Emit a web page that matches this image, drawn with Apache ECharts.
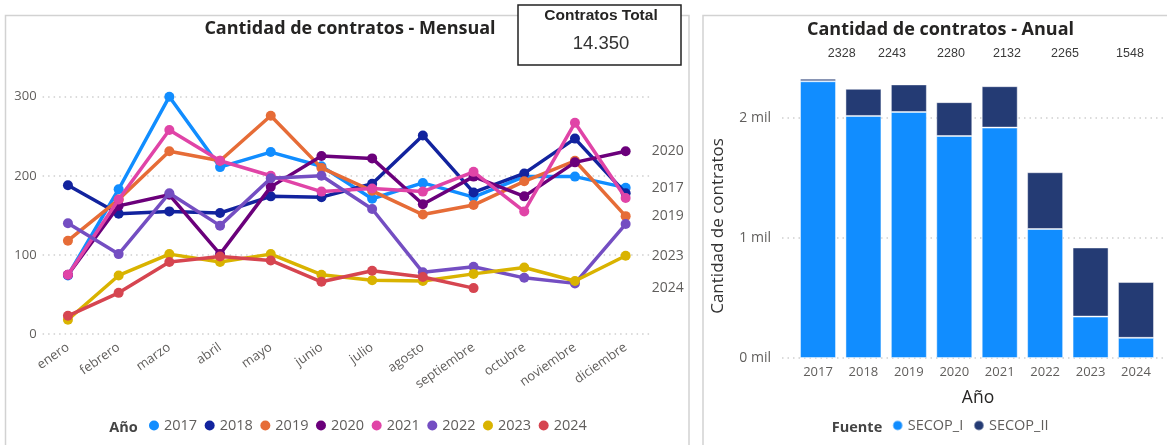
<!DOCTYPE html>
<html>
<head>
<meta charset="utf-8">
<title>Cantidad de contratos</title>
<script src="https://cdn.jsdelivr.net/npm/echarts@6/dist/echarts.min.js"></script>
<style>
  html, body { margin: 0; padding: 0; background: #ffffff; }
  #chart { width: 1167px; height: 445px; }
</style>
</head>
<body>
<div id="chart"></div>
<script>
// ---- Datos ----
const meses = ['enero', 'febrero', 'marzo', 'abril', 'mayo', 'junio', 'julio',
               'agosto', 'septiembre', 'octubre', 'noviembre', 'diciembre'];
const anios = ['2017', '2018', '2019', '2020', '2021', '2022', '2023', '2024'];

// Contratos por mes, un arreglo por año
const mes2017 = [74, 183, 300, 211, 230, 212, 171, 191, 173, 199, 199, 185];
const mes2018 = [188, 152, 155, 153, 174, 173, 190, 251, 179, 203, 247, 178];
const mes2019 = [118, 170, 231, 219, 276, 210, 181, 151, 163, 193, 219, 149];
const mes2020 = [75, 162, 176, 101, 186, 225, 222, 164, 199, 174, 217, 231];
const mes2021 = [75, 170, 258, 219, 200, 180, 184, 180, 205, 155, 267, 172];
const mes2022 = [140, 101, 178, 137, 197, 200, 158, 78, 85, 71, 64, 139];
const mes2023 = [18, 74, 101, 91, 101, 75, 68, 67, 76, 84, 67, 99];
const mes2024 = [23, 52, 91, 98, 93, 66, 80, 72, 58, null, null, null];

// Contratos por año y fuente
const fuentes = ['SECOP_I', 'SECOP_II'];
const secopI  = [2306, 2017, 2050, 1850, 1920, 1075, 345, 168];
const secopII = [22, 226, 230, 282, 345, 473, 576, 465];

// Años cuya serie lleva rótulo al final de la línea
const aniosRotulados = ['2017', '2019', '2020', '2023', '2024'];
// Años con total anual rotulado sobre el gráfico anual
const totalesRotulados = ['2017', '2018', '2019', '2020', '2021', '2022'];

// ---- Estilo ----
const FONT = "'Open Sans', 'Noto Sans', sans-serif";
const GRIS = '#605E5C';
const OSCURO = '#252423';
const coloresAnio = ['#118DFF', '#12239E', '#E66C37', '#6B007B',
                     '#E044A7', '#744EC2', '#D9B300', '#D64550'];
const coloresFuente = ['#118DFF', '#243B74'];
const lineaPunteada = { color: '#CFCFCF', width: 1.5, type: [1.5, 4] };

const seriesMensuales = [mes2017, mes2018, mes2019, mes2020, mes2021, mes2022, mes2023, mes2024];
const totales = secopI.map((v, i) => v + secopII[i]);
const totalGeneral = totales.reduce((a, b) => a + b, 0);
const conMiles = n => String(n).replace(/\B(?=(\d{3})+(?!\d))/g, '.');

const chart = echarts.init(document.getElementById('chart'), null, { renderer: 'canvas' });

const lineSeries = anios.map((anio, k) => {
  const datos = seriesMensuales[k];
  let ultimo = null;
  datos.forEach(v => { if (v !== null) ultimo = v; });
  const s = {
    type: 'line',
    name: anio,
    xAxisIndex: 0,
    yAxisIndex: 0,
    data: datos,
    symbol: 'circle',
    symbolSize: 10,
    showAllSymbol: true,
    connectNulls: false,
    lineStyle: { width: 3.5, color: coloresAnio[k] },
    itemStyle: { color: coloresAnio[k] },
    emphasis: { disabled: true },
    z: 2 + k * 0.01
  };
  if (aniosRotulados.includes(anio)) {
    s.markPoint = {
      silent: true,
      symbol: 'circle',
      symbolSize: 0,
      data: [{
        coord: ['diciembre', ultimo],
        label: {
          show: true, position: 'right', distance: 26,
          formatter: anio, color: GRIS, fontSize: 14, fontFamily: FONT
        }
      }]
    };
  }
  return s;
});

const barSeries = fuentes.map((f, k) => ({
  type: 'bar',
  name: f,
  stack: 'fuente',
  xAxisIndex: 1,
  yAxisIndex: 1,
  data: k === 0 ? secopI : secopII,
  barWidth: 36,
  itemStyle: { color: coloresFuente[k], borderColor: 'rgba(255,255,255,0.45)', borderWidth: 1 },
  emphasis: { disabled: true }
}));

// Rótulos de totales sobre el gráfico anual
const posTotales = [841.7, 892, 951, 1007, 1065, 1130];
const textosTotales = totalesRotulados.map((a, i) => ({
  type: 'text',
  x: posTotales[i], y: 54,
  style: {
    text: String(totales[anios.indexOf(a)]),
    fill: '#3A3A3A', font: "12.5px 'Liberation Sans', Arial, sans-serif",
    textAlign: 'center', textVerticalAlign: 'middle'
  },
  z: 10
}));

const option = {
  animation: false,
  backgroundColor: '#ffffff',
  grid: [
    { left: 42.6, right: 1167 - 651, top: 96.7, bottom: 445 - 334 },
    { left: 795.3, right: 1167 - 1158.7, top: 58, bottom: 445 - 358 },
    { left: 782, right: 2, top: 118, bottom: 445 - 358 }
  ],
  xAxis: [
    {
      gridIndex: 0, type: 'category', data: meses, boundaryGap: true,
      axisLine: { show: false }, axisTick: { show: false },
      axisLabel: { rotate: 35, margin: 12, interval: 0, color: GRIS, fontSize: 13, fontFamily: FONT }
    },
    {
      gridIndex: 1, type: 'category', data: anios,
      axisLine: { show: false }, axisTick: { show: false },
      axisLabel: { margin: 8, color: GRIS, fontSize: 13, fontFamily: FONT }
    },
    { gridIndex: 2, type: 'value', min: 0, max: 1, show: false }
  ],
  yAxis: [
    {
      gridIndex: 0, type: 'value', min: 0, max: 300, interval: 100,
      axisLine: { show: false }, axisTick: { show: false },
      axisLabel: { margin: 6, color: GRIS, fontSize: 13, fontFamily: FONT },
      splitLine: { show: true, lineStyle: lineaPunteada }
    },
    { gridIndex: 1, type: 'value', min: 0, max: 2500, show: false },
    {
      gridIndex: 2, type: 'value', min: 0, max: 2000, interval: 1000,
      axisLine: { show: false }, axisTick: { show: false },
      axisLabel: { margin: 11, color: GRIS, fontSize: 14, fontFamily: FONT,
                   formatter: v => (v / 1000) + ' mil' },
      splitLine: { show: true, lineStyle: lineaPunteada }
    }
  ],
  legend: [
    {
      data: anios, left: 149, top: 418, padding: 0,
      icon: 'circle', itemWidth: 10, itemHeight: 10, itemGap: 7.5,
      selectedMode: false,
      textStyle: { color: GRIS, fontSize: 14.5, fontFamily: FONT }
    },
    {
      data: fuentes, left: 891.7, top: 418, padding: 0,
      icon: 'circle', itemWidth: 10, itemHeight: 10, itemGap: 9.7,
      selectedMode: false,
      textStyle: { color: GRIS, fontSize: 14.5, fontFamily: FONT }
    }
  ],
  graphic: [
    // Marcos de los dos paneles
    { type: 'rect', shape: { x: 5.5, y: 15.5, width: 683.5, height: 440 },
      style: { fill: 'none', stroke: '#D2D2D2', lineWidth: 1.5 }, z: -1, silent: true },
    { type: 'rect', shape: { x: 703, y: 15.5, width: 470, height: 440 },
      style: { fill: 'none', stroke: '#D2D2D2', lineWidth: 1.5 }, z: -1, silent: true },
    // Títulos
    { type: 'text', x: 350, y: 29,
      style: { text: 'Cantidad de contratos - Mensual', fill: OSCURO,
               font: "bold 18px " + FONT, textAlign: 'center', textVerticalAlign: 'middle' } },
    { type: 'text', x: 940.5, y: 30,
      style: { text: 'Cantidad de contratos - Anual', fill: OSCURO,
               font: "bold 18px " + FONT, textAlign: 'center', textVerticalAlign: 'middle' } },
    // Tarjeta del total
    { type: 'rect', shape: { x: 518, y: 5, width: 163, height: 60 },
      style: { fill: '#ffffff', stroke: '#222222', lineWidth: 1.5 }, z: 20 },
    { type: 'text', x: 601, y: 15.5, z: 21,
      style: { text: 'Contratos Total', fill: OSCURO,
               font: "bold 15.5px 'Liberation Sans', Arial, sans-serif",
               textAlign: 'center', textVerticalAlign: 'middle' } },
    { type: 'text', x: 601, y: 43.5, z: 21,
      style: { text: conMiles(totalGeneral), fill: '#333333',
               font: "18.5px 'Liberation Sans', Arial, sans-serif",
               textAlign: 'center', textVerticalAlign: 'middle' } },
    // Encabezados de leyenda
    { type: 'text', x: 123.5, y: 428,
      style: { text: 'Año', fill: '#444444', font: "bold 14.5px " + FONT,
               textAlign: 'center', textVerticalAlign: 'middle' } },
    { type: 'text', x: 857, y: 428,
      style: { text: 'Fuente', fill: '#444444', font: "bold 14.5px " + FONT,
               textAlign: 'center', textVerticalAlign: 'middle' } },
    // Títulos de ejes del gráfico anual
    { type: 'text', x: 978, y: 398,
      style: { text: 'Año', fill: OSCURO, font: "17.5px " + FONT,
               textAlign: 'center', textVerticalAlign: 'middle' } },
    { type: 'text', x: 718, y: 226, rotation: Math.PI / 2,
      style: { text: 'Cantidad de contratos', fill: '#333333', font: "17px " + FONT,
               textAlign: 'center', textVerticalAlign: 'middle' } }
  ].concat(textosTotales),
  series: lineSeries.concat(barSeries)
};

chart.setOption(option);
</script>
</body>
</html>
